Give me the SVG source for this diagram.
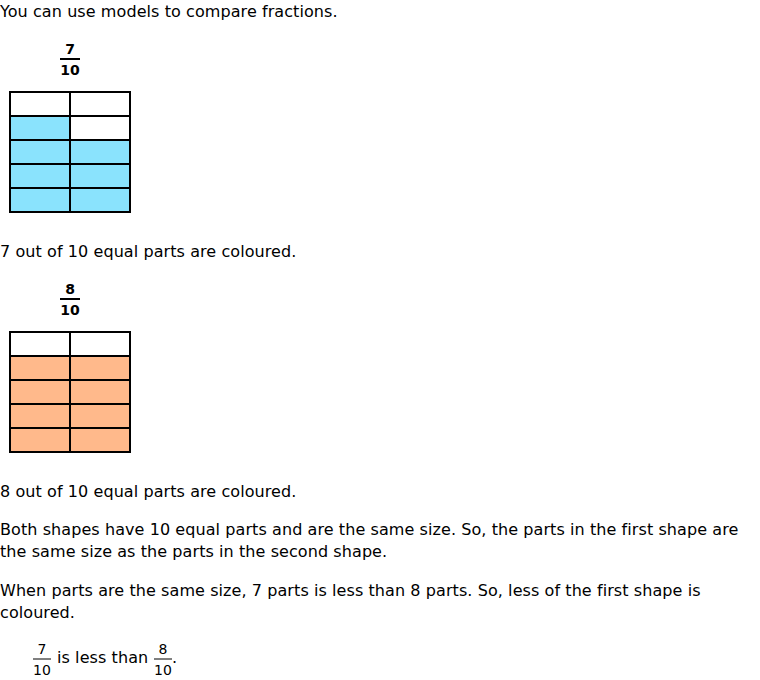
<svg xmlns="http://www.w3.org/2000/svg" width="760" height="680" viewBox="0 0 760 680">
<style>
text{font-family:"DejaVu Sans",Verdana,sans-serif;fill:#000}
.t{font-size:16px;letter-spacing:0.08px}
.fb{font-size:14px;font-weight:bold;text-anchor:middle}
.f{font-size:14px;text-anchor:middle}
.g{stroke:#000;stroke-width:2}
.b{fill:#8ae3fd}
.o{fill:#ffb98b}
.w{fill:#fff}
</style>
<rect width="760" height="680" fill="#fff"/>
<text class="t" x="0" y="17">You can use models to compare fractions.</text>
<g id="frac1">
<text class="fb" x="70" y="54">7</text>
<line x1="60" y1="59" x2="80" y2="59" stroke="#000" stroke-width="2"/>
<text class="fb" x="70" y="75">10</text>
</g>
<g id="grid1">
<rect class="w" x="10" y="92" width="120" height="24"/>
<rect class="b" x="10" y="116" width="60" height="24"/>
<rect class="w" x="70" y="116" width="60" height="24"/>
<rect class="b" x="10" y="140" width="120" height="72"/>
<g class="g">
<rect x="10" y="92" width="120" height="120" fill="none"/>
<line x1="70" y1="92" x2="70" y2="212"/>
<line x1="10" y1="116" x2="130" y2="116"/>
<line x1="10" y1="140" x2="130" y2="140"/>
<line x1="10" y1="164" x2="130" y2="164"/>
<line x1="10" y1="188" x2="130" y2="188"/>
</g>
</g>
<text class="t" x="0" y="257">7 out of 10 equal parts are coloured.</text>
<g id="frac2">
<text class="fb" x="70" y="294">8</text>
<line x1="60" y1="299" x2="80" y2="299" stroke="#000" stroke-width="2"/>
<text class="fb" x="70" y="315">10</text>
</g>
<g id="grid2">
<rect class="w" x="10" y="332" width="120" height="24"/>
<rect class="o" x="10" y="356" width="120" height="96"/>
<g class="g">
<rect x="10" y="332" width="120" height="120" fill="none"/>
<line x1="70" y1="332" x2="70" y2="452"/>
<line x1="10" y1="356" x2="130" y2="356"/>
<line x1="10" y1="380" x2="130" y2="380"/>
<line x1="10" y1="404" x2="130" y2="404"/>
<line x1="10" y1="428" x2="130" y2="428"/>
</g>
</g>
<text class="t" x="0" y="497">8 out of 10 equal parts are coloured.</text>
<text class="t" x="0" y="535">Both shapes have 10 equal parts and are the same size. So, the parts in the first shape are</text>
<text class="t" x="0" y="557">the same size as the parts in the second shape.</text>
<text class="t" x="0" y="596">When parts are the same size, 7 parts is less than 8 parts. So, less of the first shape is</text>
<text class="t" x="0" y="618">coloured.</text>
<g id="compare">
<text class="f" x="42" y="654">7</text>
<line x1="33" y1="659" x2="51" y2="659" stroke="#000" stroke-width="1"/>
<text class="f" x="42" y="675">10</text>
<text class="t" x="57" y="663">is less than</text>
<text class="f" x="163" y="654">8</text>
<line x1="154" y1="659" x2="172" y2="659" stroke="#000" stroke-width="1"/>
<text class="f" x="163" y="675">10</text>
<text class="t" x="172" y="663">.</text>
</g>
</svg>
